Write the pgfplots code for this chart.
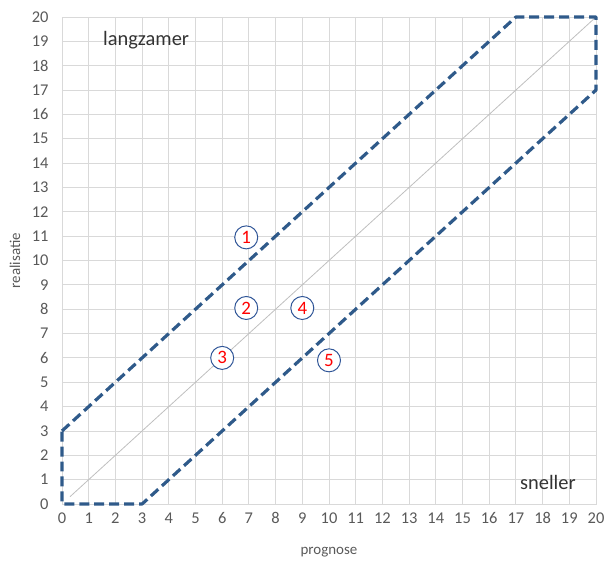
\documentclass[border=0pt]{standalone}
\usepackage{pgfplots}
\pgfplotsset{compat=1.18}
\usepackage{fontspec}
\setmainfont{Carlito}
\definecolor{gridc}{HTML}{D9D9D9}
\definecolor{tickc}{HTML}{595959}
\definecolor{bandc}{HTML}{2F5A8A}
\definecolor{ringc}{HTML}{2F5597}
\definecolor{diagc}{HTML}{BFBFBF}
\begin{document}
\begin{tikzpicture}
\begin{axis}[
  scale only axis, width=534bp, height=487bp,
  xmin=0, xmax=20, ymin=0, ymax=20,
  xtick={0,1,...,20}, ytick={0,1,...,20},
  grid=major, major grid style={gridc, line width=0.9pt},
  axis line style={gridc, line width=0.9pt},
  tick style={draw=none},
  ticklabel style={font=\fontsize{16.5}{18}\selectfont, text=tickc},
  yticklabel style={xshift=-10bp},
  xticklabel style={yshift=-5bp},
  /pgf/number format/assume math mode=true,
  xlabel={prognose}, ylabel={realisatie},
  every axis x label/.style={at={(axis description cs:0.5,0)}, yshift=-48bp, anchor=center,
    font=\fontsize{15}{17}\selectfont, text=tickc},
  every axis y label/.style={at={(axis description cs:0,0.5)}, xshift=-47bp, rotate=90, anchor=center,
    font=\fontsize{15}{17}\selectfont, text=tickc},
  clip=false,
]
\addplot[diagc, line width=0.8pt] coordinates {(0.3,0.3) (20,20)};
\addplot[bandc, line width=3.2pt, dash pattern=on 10pt off 5pt, line join=round] coordinates {
  (0,3) (17,20) (20,20) (20,17) (3,0) (0,0) (0,3)};
\addplot[only marks, mark=*, mark size=11.5bp, mark options={draw=ringc, fill=white, line width=1pt},
  point meta=explicit symbolic,
  nodes near coords, nodes near coords align={center},
  every node near coord/.style={font=\fontsize{19}{21}\selectfont, text=red, anchor=center}]
  coordinates {
  (6.9,10.95) [1]
  (6.9,8.05) [2]
  (6.0,6.0) [3]
  (9.0,8.05) [4]
  (10.0,5.9) [5]
};
\node[font=\fontsize{20.5}{22}\selectfont, text=black!80] at (axis cs:3.15,19.05) {langzamer};
\node[font=\fontsize{20.5}{22}\selectfont, text=black!80] at (axis cs:18.2,0.9) {sneller};
\path (rel axis cs:0,0) ++(-62bp,-59bp) coordinate (bl);
\path (rel axis cs:1,1) ++(12bp,17bp) coordinate (tr);
\path (bl) (tr);
\end{axis}
\end{tikzpicture}
\end{document}
